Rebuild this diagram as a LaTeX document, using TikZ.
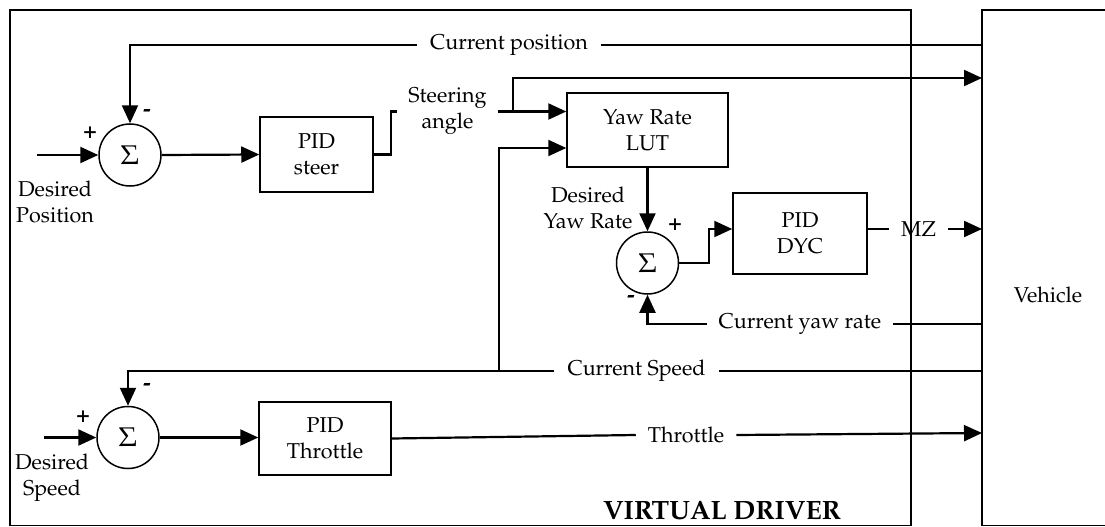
\documentclass[tikz,border=0pt]{standalone}
\usepackage[T1]{fontenc}
\usepackage{mathpazo}
\usetikzlibrary{arrows.meta,calc}
\begin{document}
\begin{tikzpicture}[x=1pt,y=-1pt,
  txt/.style={font=\fontsize{21.5}{26}\selectfont, inner sep=0pt, align=center},
  lbl/.style={txt, inner xsep=12pt},
  blk/.style={draw, line width=1.5pt, inner sep=0pt, align=center, font=\fontsize{21.5}{26}\selectfont},
  sumnode/.style={draw, circle, line width=1.5pt, minimum size=62pt, inner sep=0pt, font=\fontsize{27}{30}\selectfont},
  wire/.style={line width=2.2pt},
  arr/.style={wire, -{Triangle[length=18pt,width=16pt]}},
  sign/.style={font=\bfseries\fontsize{23}{23}\selectfont, inner sep=0pt},
  frame/.style={line width=1.5pt}
]
\useasboundingbox (0,0) rectangle (1105,527);
% frames
\draw[frame] (10,10) rectangle (911,525.5);
\draw[frame] (1105,10) -- (982,10) -- (982,525.5) -- (1105,525.5);
% vehicle entry points
\coordinate (v1) at (982,45);
\coordinate (v2) at (982,78);
\coordinate (v3) at (982,229);
\coordinate (v4) at (982,324);
\coordinate (v5) at (982,371);
\coordinate (v6) at (982,433);
\coordinate (in1) at (37,155);
\coordinate (in3) at (44,437.5);
\coordinate (br) at (513,111.5);
\coordinate (j1) at (499,371);
% blocks
\node[sumnode] (s1) at (130,155) {$\Sigma$};
\node[blk, minimum width=113pt, minimum height=75pt] (pids) at (316.5,154.5) {PID\\steer};
\node[blk, minimum width=161pt, minimum height=74pt] (lut) at (647.5,130) {Yaw Rate\\LUT};
\node[sumnode] (s2) at (647.5,263) {$\Sigma$};
\node[blk, minimum width=134pt, minimum height=81pt] (dyc) at (800,233.5) {PID\\DYC};
\node[sumnode] (s3) at (128,437.5) {$\Sigma$};
\node[blk, minimum width=132pt, minimum height=73pt] (pidt) at (325,438.5) {PID\\Throttle};
% labels
\node[lbl, inner xsep=13pt] (cpos) at (509,45) {Current position};
\node[lbl, inner xsep=11pt] (steer) at (447.5,111.5) {Steering\\angle};
\node[txt] (dyr) at (588,207.5) {Desired\\Yaw Rate};
\node[lbl] (mz) at (918.5,229) {MZ};
\node[lbl] (cyaw) at (800,324) {Current yaw rate};
\node[lbl, inner xsep=13pt] (cspd) at (636.5,371) {Current Speed};
\node[lbl] (thr) at (686,435) {Throttle};
\node[txt] (dpos) at (55,201.5) {Desired\\Position};
\node[txt] (dspd) at (52,477.5) {Desired\\Speed};
\node[txt] (veh) at (1048,295) {Vehicle};
\node[font=\bfseries\fontsize{26.5}{30}\selectfont, inner sep=0pt] (vd) at (722,510) {VIRTUAL DRIVER};
% signs
\node[sign] (p1) at (90,133) {+};
\node[sign] (m1) at (147,113) {-};
\node[sign] (p2) at (675,225) {+};
\node[sign] (m2) at (631,299) {-};
\node[sign] (p3) at (83,417) {+};
\node[sign] (m3) at (147,387) {-};
% connectors
\draw[wire] (v1) -- (cpos.east);
\draw[arr] (cpos.west) -| (s1.north);
\draw[arr] (in1) -- (s1.west);
\draw[arr] (s1.east) -- (pids.west);
\draw[wire] (pids.east) -- ++(17.5,0) |- (steer.west);
\draw[arr] (steer.east) -- (lut.west |- steer.east);
\draw[arr] (br) |- (v2);
\draw[arr] (j1) |- ($(lut.west)+(0,18)$);
\draw[wire] (v5) -- (cspd.east);
\draw[arr] (cspd.west) -| (s3.north);
\draw[arr] (lut.south) -- (s2.north);
\draw[arr] (s2.east) -- ++(29.5,0) |- (dyc.west |- v3);
\draw[wire] (dyc.east |- v3) -- (mz.west);
\draw[arr] (mz.east) -- (v3);
\draw[wire] (v4) -- (cyaw.east);
\draw[arr] (cyaw.west) -| (s2.south);
\draw[arr] (in3) -- (s3.west);
\draw[arr] (s3.east) -- (pidt.west |- s3.east);
\draw[wire] (pidt.east) -- (thr.west);
\draw[arr] (thr.east) -- (v6);
\end{tikzpicture}
\end{document}
